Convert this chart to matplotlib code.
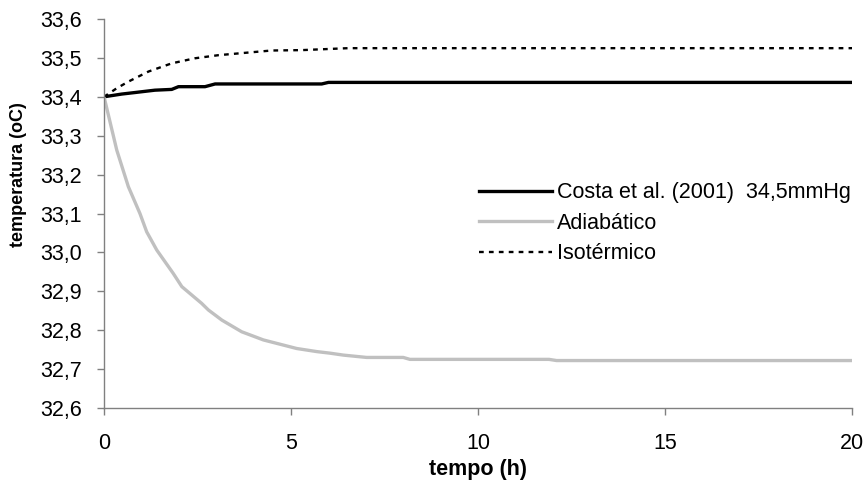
import matplotlib.pyplot as plt
from matplotlib.ticker import FuncFormatter

plt.rcParams['font.family'] = ['Liberation Sans', 'DejaVu Sans']

# Costa et al. (2001), 34,5 mmHg
t_costa = [0, 0.47, 0.83, 1.36, 1.81, 1.99, 2.7, 2.97, 5.82, 6.0, 20]
T_costa = [33.400, 33.407, 33.411, 33.417, 33.419, 33.426, 33.426, 33.433, 33.433, 33.437, 33.437]

# adiabatic model
t_adia = [0, 0.34, 0.65, 0.96, 1.14, 1.41, 1.85, 2.08, 2.61, 2.79, 3.15, 3.68,
          4.04, 4.26, 5.15, 5.69, 6.04, 6.4, 7.02, 8.0, 8.18, 11.9, 12.1, 20]
T_adia = [33.400, 33.263, 33.169, 33.100, 33.053, 33.006, 32.946, 32.912, 32.869, 32.852,
          32.826, 32.796, 32.783, 32.775, 32.753, 32.745, 32.741, 32.736, 32.730, 32.730,
          32.725, 32.725, 32.722, 32.722]

# isothermal model
t_iso = [0, 0.34, 0.65, 1.19, 1.81, 2.43, 3.06, 3.77, 4.48, 5.29, 6.53, 20]
T_iso = [33.400, 33.422, 33.439, 33.465, 33.486, 33.499, 33.507, 33.513, 33.519, 33.520, 33.525, 33.525]

fig = plt.figure(figsize=(8.67, 4.87), dpi=100)
ax = fig.add_axes([0.12, 0.1622, 0.8627, 0.7988])

ax.plot(t_costa, T_costa, color='black', lw=2.4, label='Costa et al. (2001)  34,5mmHg')
ax.plot(t_adia, T_adia, color='#c0c0c0', lw=2.4, label='Adiabático')
ax.plot(t_iso, T_iso, color='black', lw=1.7, linestyle=(0, (2.0, 2.2)), label='Isotérmico')

ax.set_xlim(0, 20)
ax.set_ylim(32.6, 33.6)
ax.set_xticks([0, 5, 10, 15, 20])
ax.set_yticks([32.6 + 0.1 * i for i in range(11)])
ax.yaxis.set_major_formatter(FuncFormatter(lambda v, p: f'{v:.1f}'.replace('.', ',')))

for s in ['top', 'right']:
    ax.spines[s].set_visible(False)
for s in ['left', 'bottom']:
    ax.spines[s].set_color('#808080')
    ax.spines[s].set_linewidth(1.0)
ax.tick_params(direction='out', length=5, width=1, color='#808080', labelsize=15.5)
ax.tick_params(axis='y', pad=11)
ax.tick_params(axis='x', pad=13)

ax.set_xlabel('tempo (h)', fontsize=15.5, fontweight='bold')
ax.xaxis.set_label_coords(0.5, -0.13)
ax.set_ylabel('temperatura (oC)', fontsize=13, fontweight='bold')
ax.yaxis.set_label_coords(-0.103, 0.6)

ax.legend(loc='center left', bbox_to_anchor=(0.475, 0.475), frameon=False, fontsize=15.5,
          handlelength=3.4, handletextpad=0.25, labelspacing=0.44)

fig.savefig('out.png', dpi=100)
